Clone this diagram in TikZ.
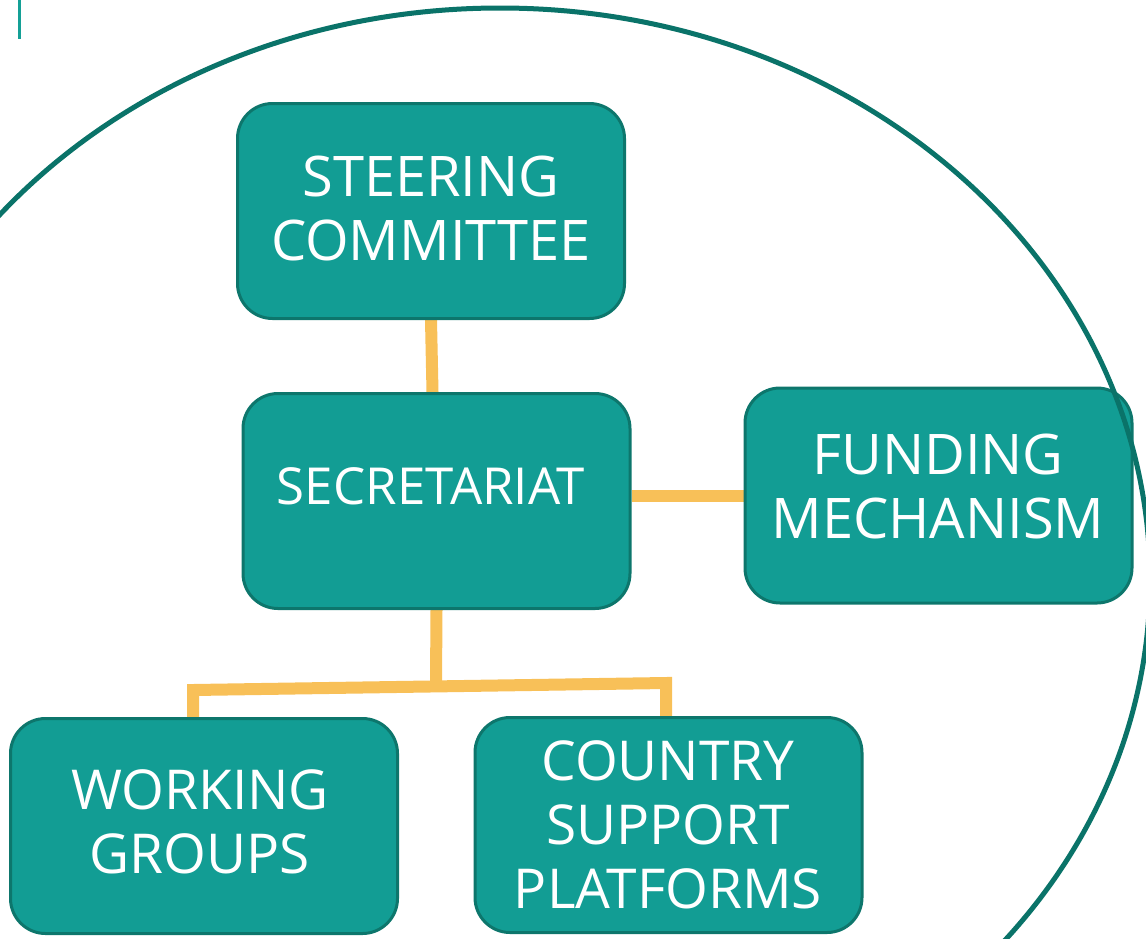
\documentclass[tikz,border=0pt]{standalone}
\usepackage{fontspec}
\setmainfont{Open Sans}
\usetikzlibrary{backgrounds,calc}
\definecolor{boxfill}{HTML}{129D94}
\definecolor{boxline}{HTML}{0D766C}
\definecolor{ringcol}{HTML}{0A7369}
\definecolor{linkcol}{HTML}{F8C058}
\definecolor{tickcol}{HTML}{14A096}
\tikzset{
  orgbox/.style={draw=boxline, line width=3pt, fill=boxfill, rounded corners=35pt,
    minimum width=387pt, minimum height=215pt, inner sep=0pt},
  boxtext/.style={text=white, align=center, inner sep=0pt, anchor=north},
  link/.style={draw=linkcol, line width=12pt, line join=miter}
}
\begin{document}
\begin{tikzpicture}[x=1pt, y=-1pt]
\useasboundingbox (0,0) rectangle (1146,938);
\clip (0,0) rectangle (1146,938);
% small tick at top left
\draw[tickcol, line width=3pt] (19,0) -- (19,39);
% boxes
\node[orgbox] (sc) at (431,211) {};
\node[orgbox] (sec) at (436.5,501) {};
\node[orgbox] (fund) at (938.5,495.5) {};
\node[orgbox] (wg) at (204,826) {};
\node[orgbox] (csp) at (668.5,825) {};
\coordinate (jm) at (436,684);
\coordinate (jl) at (193,690);
\coordinate (jr) at (666,683);
% connectors (behind the boxes)
\begin{scope}[on background layer]
\draw[link] (sc.south) -- ($(sec.north)+(-4,0)$);
\draw[link] (fund.west) -- (fund.west -| sec.east);
\draw[link] (sec.south) -- (jm);
\draw[link] (jl |- wg.north) -- (jl) -- (jr) -- (jr |- csp.north);
\end{scope}
% texts
\node[boxtext, font=\fontsize{56}{63.5}\selectfont] (sct) at (431,156) {STEERING\\COMMITTEE};
\node[boxtext, font=\fontsize{51}{60}\selectfont] (sect) at (431,467) {SECRETARIAT};
\node[boxtext, font=\fontsize{56}{64}\selectfont] (fundt) at (938,434) {FUNDING\\MECHANISM};
\node[boxtext, font=\fontsize{55}{64}\selectfont] (wgt) at (200,769) {WORKING\\GROUPS};
\node[boxtext, font=\fontsize{55}{64}\selectfont] (cspt) at (668,740) {COUNTRY\\SUPPORT\\PLATFORMS};
% big ring
\draw[ringcol, line width=5pt] (500,580) ellipse [x radius=650, y radius=572];
\end{tikzpicture}
\end{document}
